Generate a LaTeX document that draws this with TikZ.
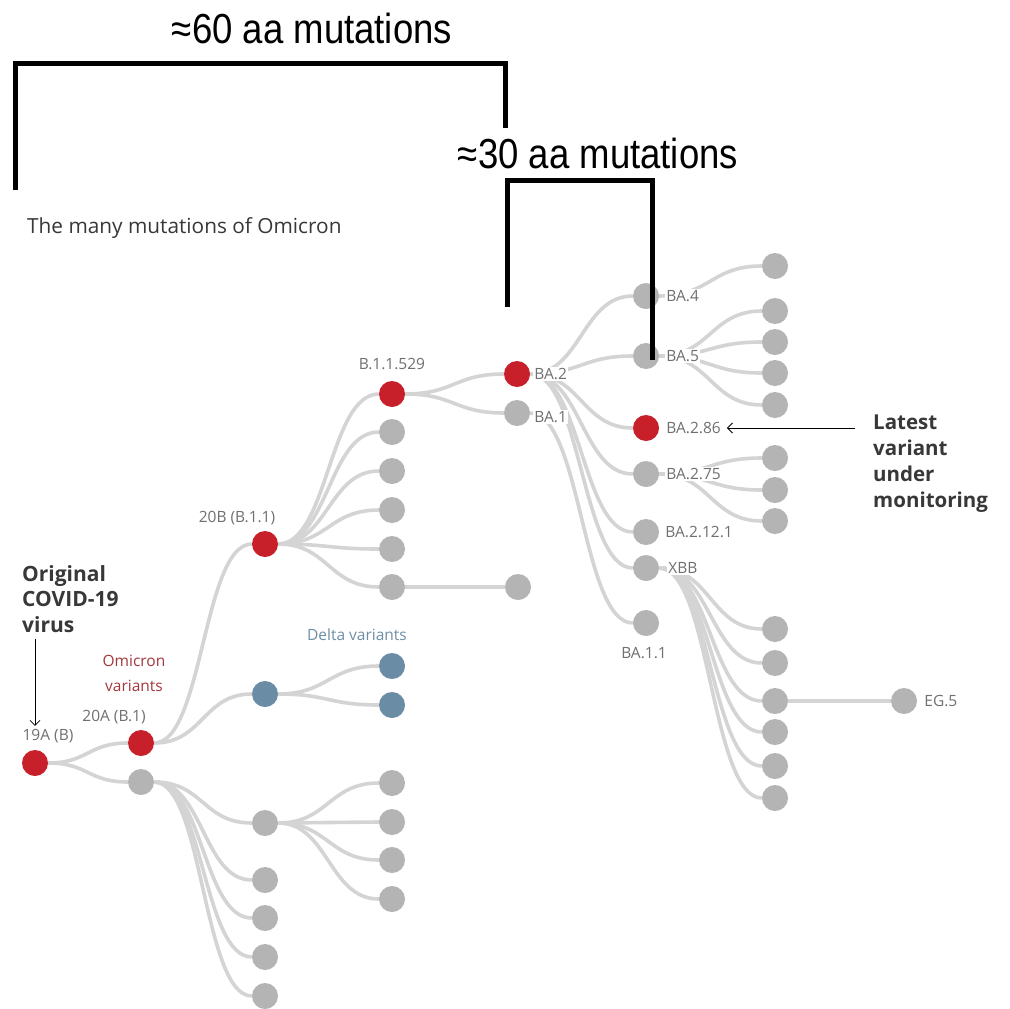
\documentclass[tikz,border=0pt]{standalone}
\usepackage{fontspec}
\setmainfont{Open Sans}
\newfontfamily\barfont{Liberation Sans}
\usepackage{graphicx}
\usepackage{tikz}
\usetikzlibrary{arrows.meta, positioning, backgrounds}

\definecolor{virred}{HTML}{C8202B}
\definecolor{dotgray}{HTML}{B4B4B4}
\definecolor{linkgray}{HTML}{D4D4D4}
\definecolor{deltablue}{HTML}{6A8CA5}
\definecolor{lblgray}{HTML}{707070}
\definecolor{omired}{HTML}{A4373E}
\definecolor{deltatxt}{HTML}{6E8EA6}
\definecolor{textdark}{HTML}{383838}

\begin{document}
\begin{tikzpicture}[
  x=1pt, y=-1pt,
  dot/.style={circle, fill=dotgray, minimum size=26pt, inner sep=0pt},
  reddot/.style={dot, fill=virred},
  bluedot/.style={dot, fill=deltablue},
  lbl/.style={text=lblgray, fill=white, inner sep=1pt, font=\fontsize{15.5}{18}\selectfont},
  note/.style={text=textdark, align=left, inner sep=0pt, font=\fontsize{21}{25.5}\selectfont\bfseries},
  link/.style={draw=linkgray, line width=3.6pt},
  bracket/.style={draw=black, line width=5pt},
  pointer/.style={draw=black, line width=0.8pt, -{Straight Barb[length=5pt, width=10pt]}},
  bartext/.style={font=\fontsize{42}{48}\selectfont\barfont, inner sep=0pt}
]
\useasboundingbox (0,0) rectangle (1009,1009);

% Root and first split
\node (n19a) [reddot] at (35,763) {};
\node (n20a) [reddot] at (141,743) {};
\node (g20) [dot] at (141,782) {};

% Second level
\node (n20b) [reddot] at (265,544) {};
\node (delta) [bluedot] at (265,694) {};
\foreach \y [count=\i] in {823,880,918,957,996} \node (h\i) [dot] at (265,\y) {};

% Third level
\node (b529) [reddot] at (392,394) {};
\foreach \y [count=\i] in {432,471,510,549,587} \node (s\i) [dot] at (392,\y) {};
\node (s6) [dot] at (518,587) {};
\node (d1) [bluedot] at (392,666) {};
\node (d2) [bluedot] at (392,705) {};
\foreach \y [count=\i] in {783,822,860,899} \node (k\i) [dot] at (392,\y) {};

% Omicron sublineages
\node (ba2) [reddot] at (517,374) {};
\node (ba1) [dot] at (517,413) {};
\node (ba4) [dot] at (646,296) {};
\node (ba5) [dot] at (646,356) {};
\node (ba286) [reddot] at (646,428) {};
\node (ba275) [dot] at (646,474) {};
\node (ba2121) [dot] at (646,532) {};
\node (xbb) [dot] at (646,568) {};
\node (ba11) [dot] at (646,623) {};
\node (a1) [dot] at (775,266) {};
\foreach \y [count=\i] in {311,342,373,405} \node (f\i) [dot] at (775,\y) {};
\foreach \y [count=\i] in {458,490,521} \node (m\i) [dot] at (775,\y) {};
\foreach \y [count=\i] in {629,663,701,732,766,798} \node (x\i) [dot] at (775,\y) {};
\node (eg5) [dot] at (904,701) {};

% Branches
\begin{scope}[on background layer]
\fill[white] (0,0) rectangle (1009,1009);
\foreach \c in {n20a,g20} \draw[link] (n19a) .. controls +(53,0) and +(-53,0) .. (\c);
\foreach \c in {n20b,delta} \draw[link] (n20a) .. controls +(62,0) and +(-62,0) .. (\c);
\foreach \c in {h1,h2,h3,h4,h5} \draw[link] (g20) .. controls +(62,0) and +(-62,0) .. (\c);
\foreach \c in {b529,s1,s2,s3,s4,s5} \draw[link] (n20b) .. controls +(63,0) and +(-63,0) .. (\c);
\foreach \c in {d1,d2} \draw[link] (delta) .. controls +(63,0) and +(-63,0) .. (\c);
\foreach \c in {k1,k2,k3,k4} \draw[link] (h1) .. controls +(63,0) and +(-63,0) .. (\c);
\draw[link] (s5) -- (s6);
\foreach \c in {ba2,ba1} \draw[link] (b529) .. controls +(62,0) and +(-62,0) .. (\c);
\foreach \c in {ba4,ba5,ba286,ba275,ba2121,xbb} \draw[link] (ba2) .. controls +(64,0) and +(-64,0) .. (\c);
\draw[link] (ba1) .. controls +(64,0) and +(-64,0) .. (ba11);
\draw[link] (ba4) .. controls +(64,0) and +(-64,0) .. (a1);
\foreach \c in {f1,f2,f3,f4} \draw[link] (ba5) .. controls +(64,0) and +(-64,0) .. (\c);
\foreach \c in {m1,m2,m3} \draw[link] (ba275) .. controls +(64,0) and +(-64,0) .. (\c);
\foreach \c in {x1,x2,x3,x4,x5,x6} \draw[link] (xbb) .. controls +(64,0) and +(-64,0) .. (\c);
\draw[link] (x3) -- (eg5);
\end{scope}

% Labels
\node (l19a) [lbl] at (48,736) {19A (B)};
\node (l20a) [lbl] at (114,717) {20A (B.1)};
\node (l20b) [lbl] at (237,518) {20B (B.1.1)};
\node (lb529) [lbl, above=10pt of b529] {B.1.1.529};
\node (lomi) [lbl, text=omired, align=center, font=\fontsize{15.5}{25}\selectfont] at (134,673) {Omicron\\variants};
\node (ldelta) [lbl, text=deltatxt] at (357,635) {Delta variants};
\node (lba2) [lbl, right=3pt of ba2] {BA.2};
\node (lba1) [lbl, right=3pt of ba1, yshift=-4pt] {BA.1};
\node (lba4) [lbl, right=6pt of ba4] {BA.4};
\node (lba5) [lbl, right=6pt of ba5] {BA.5};
\node (lba286) [lbl, right=6pt of ba286] {BA.2.86};
\node (lba275) [lbl, right=6pt of ba275] {BA.2.75};
\node (lba2121) [lbl, right=5pt of ba2121] {BA.2.12.1};
\node (lxbb) [lbl, right=8pt of xbb] {XBB};
\node (lba11) [lbl, below=10pt of ba11, xshift=-2pt] {BA.1.1};
\node (leg5) [lbl, right=6pt of eg5] {EG.5};

% Notes
\node (title) [anchor=west, text=textdark, inner sep=0pt, font=\fontsize{20.8}{24}\selectfont] at (27,228) {The many mutations of Omicron};
\node (orig) [note, anchor=north west] at (22,565) {Original\\COVID-19\\virus};
\node (latest) [note, anchor=north west, font=\fontsize{20.5}{26}\selectfont\bfseries] at (873,415) {Latest\\variant\\under\\monitoring};
\draw[pointer] ([yshift=-6pt]orig.south -| n19a) -- ([yshift=2pt]l19a.north -| n19a);
\draw[pointer] ([xshift=-18pt]latest.west |- ba286) -- ([xshift=5pt]lba286.east);

% Mutation brackets
\draw[bracket] (15,190) |- (505,63) -- (505,128);
\draw[bracket] (507,307) |- (652,180) -- (652,360);
\node (t60) [bartext] at (312,28) {\scalebox{0.87}[1]{≈60 aa mutations}};
\node (t30) [bartext] at (598,153) {\scalebox{0.87}[1]{≈30 aa mutations}};

\end{tikzpicture}
\end{document}
